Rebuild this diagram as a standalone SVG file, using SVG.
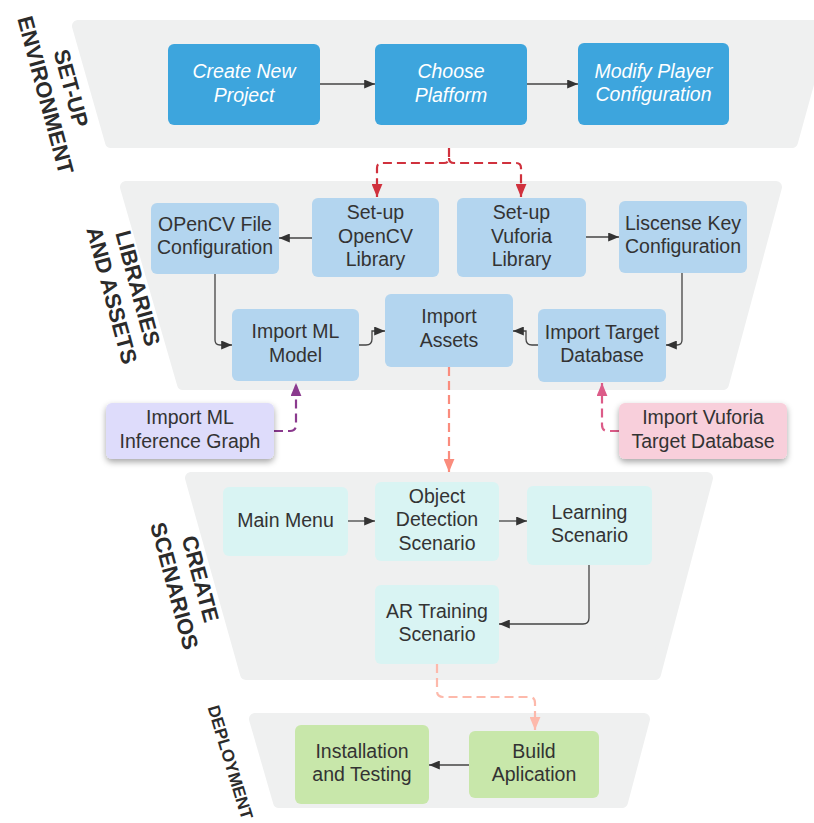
<svg xmlns="http://www.w3.org/2000/svg" width="814" height="823" viewBox="0 0 814 823">
<style>
.trap{fill:#eff0f0;stroke:#eff0f0;stroke-width:12;stroke-linejoin:round}
.b1{fill:#3da5dd}
.b2{fill:#b3d5ef}
.b3{fill:#d9f4f3}
.b4{fill:#c8e7aa}
.b5{fill:#dedcfb}
.b6{fill:#f8cfdb}
text{font-family:"Liberation Sans",Arial,sans-serif;font-size:19.5px;fill:#333;text-anchor:middle}
text.w{fill:#fff;font-style:italic}
text.lbl{font-weight:bold;font-size:22px;fill:#2b2b2b}
.c{fill:none;stroke:#444;stroke-width:1.3}
.d{fill:none;stroke-width:2.2;stroke-dasharray:9 5}
</style>
<defs>
<filter id="sh" x="-20%" y="-20%" width="140%" height="160%"><feDropShadow dx="0" dy="3" stdDeviation="3" flood-color="#000" flood-opacity="0.35"/></filter>
<marker id="ak" viewBox="0 0 12 10" refX="12" refY="5" markerWidth="12" markerHeight="9" markerUnits="userSpaceOnUse" orient="auto"><path d="M0,0L12,5L0,10z" fill="#333"/></marker>
<marker id="ar" viewBox="0 0 12 10" refX="12" refY="5" markerWidth="13" markerHeight="11" markerUnits="userSpaceOnUse" orient="auto"><path d="M0,0L12,5L0,10z" fill="#d0313d"/></marker>
<marker id="ap" viewBox="0 0 12 10" refX="12" refY="5" markerWidth="13" markerHeight="11" markerUnits="userSpaceOnUse" orient="auto"><path d="M0,0L12,5L0,10z" fill="#8b3a8e"/></marker>
<marker id="ai" viewBox="0 0 12 10" refX="12" refY="5" markerWidth="13" markerHeight="11" markerUnits="userSpaceOnUse" orient="auto"><path d="M0,0L12,5L0,10z" fill="#dc5b88"/></marker>
<marker id="as" viewBox="0 0 12 10" refX="12" refY="5" markerWidth="13" markerHeight="11" markerUnits="userSpaceOnUse" orient="auto"><path d="M0,0L12,5L0,10z" fill="#fa8c7d"/></marker>
<marker id="al" viewBox="0 0 12 10" refX="12" refY="5" markerWidth="13" markerHeight="11" markerUnits="userSpaceOnUse" orient="auto"><path d="M0,0L12,5L0,10z" fill="#fdb9ab"/></marker>
</defs>

<g id="stages">
<polygon class="trap" points="78,26 824,26 792,142 111,142"/>
<polygon class="trap" points="126,187 776,187 723,384 183,384"/>
<polygon class="trap" points="191,478 707,478 655,674 246,674"/>
<polygon class="trap" points="255,719 644,719 622,802 279,802"/>
</g>

<g id="labels">
<text class="lbl" transform="translate(59,91.5) rotate(75)"><tspan x="0" y="-5">SET-UP</tspan><tspan x="0" y="21.5">ENVIRONMENT</tspan></text>
<text class="lbl" transform="translate(125.2,291.7) rotate(75)"><tspan x="0" y="-5.5">LIBRARIES</tspan><tspan x="0" y="21.5">AND ASSETS</tspan></text>
<text class="lbl" transform="translate(187.8,582.3) rotate(75)"><tspan x="0" y="-5.5">CREATE</tspan><tspan x="0" y="21.5">SCENARIOS</tspan></text>
<text class="lbl" style="font-size:17px;text-anchor:start" transform="translate(207.4,707.6) rotate(73)">DEPLOYMENT</text>
</g>

<g id="connectors">
<path class="c" d="M320,84L375,84" marker-end="url(#ak)"/>
<path class="c" d="M527,84L578,84" marker-end="url(#ak)"/>
<path class="d" stroke="#d0313d" d="M449,148L449,158Q449,163 444,163L382,163Q377,163 377,168L377,197" marker-end="url(#ar)"/>
<path class="d" stroke="#d0313d" d="M449,158Q449,163 454,163L516,163Q521,163 521,168L521,197" marker-end="url(#ar)"/>
<path class="c" d="M312,238L279,238" marker-end="url(#ak)"/>
<path class="c" d="M586,237L619,237" marker-end="url(#ak)"/>
<path class="c" d="M215,274L215,340Q215,345 220,345L232,345" marker-end="url(#ak)"/>
<path class="c" d="M682,273L682,340Q682,345 677,345L666,345" marker-end="url(#ak)"/>
<path class="c" d="M359,345L366,345Q372,345 372,339L372,331L385,331" marker-end="url(#ak)"/>
<path class="c" d="M538,345L532,345Q526,345 526,339L526,331L513,331" marker-end="url(#ak)"/>
<path class="d" stroke="#8b3a8e" d="M274,431L290,431Q296,431 296,425L296,383" marker-end="url(#ap)"/>
<path class="d" stroke="#dc5b88" d="M619,431L608,431Q602,431 602,425L602,383" marker-end="url(#ai)"/>
<path class="d" stroke="#fa8c7d" d="M449,367L449,472" marker-end="url(#as)"/>
<path class="c" d="M348,521L375,521" marker-end="url(#ak)"/>
<path class="c" d="M499,521L527,521" marker-end="url(#ak)"/>
<path class="c" d="M589,565L589,618Q589,624 583,624L499,624" marker-end="url(#ak)"/>
<path class="d" stroke="#fdb9ab" d="M437,664L437,691Q437,697 443,697L529,697Q535,697 535,703L535,730" marker-end="url(#al)"/>
<path class="c" d="M469,765L429,765" marker-end="url(#ak)"/>
</g>

<g id="n-create"><rect class="b1" x="168" y="44" width="152" height="81" rx="6"/><text class="w"><tspan x="244" y="78.3">Create New</tspan><tspan x="244" y="101.8">Project</tspan></text></g>
<g id="n-platform"><rect class="b1" x="375" y="44" width="152" height="81" rx="6"/><text class="w"><tspan x="451" y="78.3">Choose</tspan><tspan x="451" y="101.8">Plafform</tspan></text></g>
<g id="n-player"><rect class="b1" x="578" y="43" width="151" height="82" rx="6"/><text class="w"><tspan x="653.5" y="77.8">Modify Player</tspan><tspan x="653.5" y="101.3">Configuration</tspan></text></g>

<g id="n-opencvfile"><rect class="b2" x="151" y="203" width="128" height="71" rx="6"/><text><tspan x="215" y="230.5">OPenCV File</tspan><tspan x="215" y="254">Configuration</tspan></text></g>
<g id="n-opencv"><rect class="b2" x="312" y="198" width="127" height="79" rx="6"/><text><tspan x="375.5" y="219">Set-up</tspan><tspan x="375.5" y="242.5">OpenCV</tspan><tspan x="375.5" y="266">Library</tspan></text></g>
<g id="n-vuforia"><rect class="b2" x="457" y="198" width="129" height="79" rx="6"/><text><tspan x="521.5" y="219">Set-up</tspan><tspan x="521.5" y="242.5">Vuforia</tspan><tspan x="521.5" y="266">Library</tspan></text></g>
<g id="n-license"><rect class="b2" x="619" y="201" width="128" height="72" rx="6"/><text><tspan x="683" y="229.5">Liscense Key</tspan><tspan x="683" y="253">Configuration</tspan></text></g>
<g id="n-mlmodel"><rect class="b2" x="232" y="309" width="127" height="72" rx="6"/><text><tspan x="295.5" y="338.3">Import ML</tspan><tspan x="295.5" y="361.8">Model</tspan></text></g>
<g id="n-assets"><rect class="b2" x="385" y="294" width="128" height="73" rx="6"/><text><tspan x="449" y="323">Import</tspan><tspan x="449" y="346.5">Assets</tspan></text></g>
<g id="n-targetdb"><rect class="b2" x="538" y="309" width="128" height="73" rx="6"/><text><tspan x="602" y="338.8">Import Target</tspan><tspan x="602" y="362.3">Database</tspan></text></g>

<g id="n-inference"><rect class="b5" x="106" y="403" width="168" height="56" rx="6" filter="url(#sh)"/><text><tspan x="190" y="424.3">Import ML</tspan><tspan x="190" y="447.8">Inference Graph</tspan></text></g>
<g id="n-vuforiadb"><rect class="b6" x="619" y="403" width="168" height="56" rx="6" filter="url(#sh)"/><text><tspan x="703" y="424.3">Import Vuforia</tspan><tspan x="703" y="447.8">Target Database</tspan></text></g>

<g id="n-mainmenu"><rect class="b3" x="223" y="487" width="125" height="69" rx="6"/><text x="285.5" y="527">Main Menu</text></g>
<g id="n-objdet"><rect class="b3" x="375" y="482" width="124" height="79" rx="6"/><text><tspan x="437" y="502.5">Object</tspan><tspan x="437" y="526">Detection</tspan><tspan x="437" y="549.5">Scenario</tspan></text></g>
<g id="n-learning"><rect class="b3" x="527" y="486" width="125" height="79" rx="6"/><text><tspan x="589.5" y="518.5">Learning</tspan><tspan x="589.5" y="542">Scenario</tspan></text></g>
<g id="n-artraining"><rect class="b3" x="375" y="585" width="124" height="79" rx="6"/><text><tspan x="437" y="617.8">AR Training</tspan><tspan x="437" y="641.3">Scenario</tspan></text></g>

<g id="n-install"><rect class="b4" x="295" y="725" width="134" height="79" rx="6"/><text><tspan x="362" y="757.8">Installation</tspan><tspan x="362" y="781.3">and Testing</tspan></text></g>
<g id="n-build"><rect class="b4" x="469" y="731" width="130" height="67" rx="6"/><text><tspan x="534" y="757.8">Build</tspan><tspan x="534" y="781.3">Aplication</tspan></text></g>
</svg>
